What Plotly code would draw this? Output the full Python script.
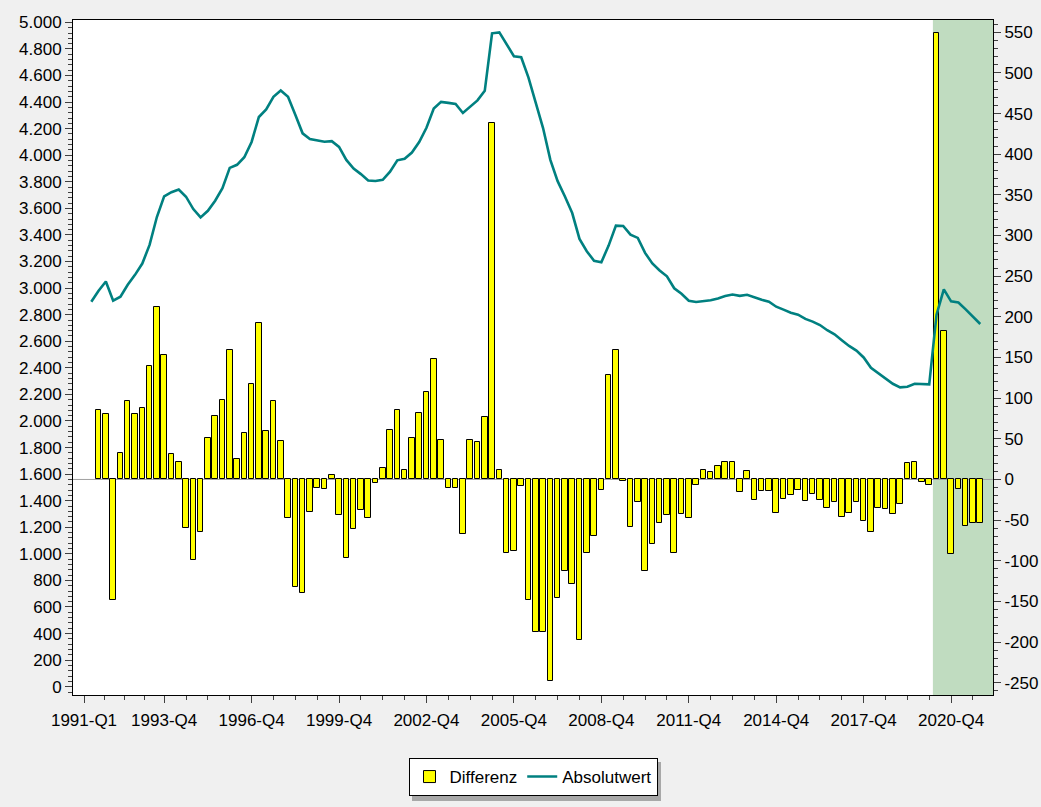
import plotly.graph_objects as go

# ---------------- data ----------------
quarters = [f"{y}-Q{q}" for y in range(1991, 2022) for q in range(1, 5)]

absolutwert = [
    2897, 2980, 3050, 2905, 2935, 3025, 3100, 3185, 3325, 3535,
    3690, 3722, 3742, 3688, 3595, 3532, 3582, 3658, 3752, 3905,
    3928, 3985, 4100, 4288, 4345, 4440, 4487, 4440, 4305, 4165,
    4122, 4112, 4102, 4106, 4063, 3965, 3900, 3858, 3810, 3806,
    3815, 3876, 3962, 3974, 4020, 4100, 4207, 4352, 4402, 4394,
    4386, 4318, 4366, 4413, 4485, 4918, 4925, 4832, 4745, 4738,
    4585, 4395, 4205, 3965, 3805, 3690, 3565, 3370, 3278, 3205,
    3195, 3320, 3470, 3468, 3402, 3378, 3265, 3186, 3133, 3089,
    2999, 2957, 2905, 2895, 2900, 2908, 2922, 2940, 2952, 2942,
    2950, 2928, 2912, 2898, 2860, 2838, 2815, 2800, 2768, 2748,
    2722, 2683, 2652, 2608, 2565, 2530, 2478, 2400, 2362, 2322,
    2280, 2253, 2258, 2280, 2280, 2276, 2800, 2990, 2900, 2892,
    2840, 2785, 2730,
]

differenz = [
    85, 80, -148, 33, 96, 80, 88, 140, 212, 153,
    31, 21, -60, -99, -65, 51, 78, 98, 159, 25,
    57, 118, 193, 59, 96, 47, -48, -132, -140, -40,
    -10, -12, 6, -44, -96, -61, -38, -47, -4, 14,
    61, 86, 12, 51, 82, 107, 148, 49, -10, -10,
    -67, 49, 46, 77, 438, 12, -90, -88, -8, -148,
    -187, -187, -248, -146, -112, -128, -197, -91, -69, -13,
    128, 159, -2, -59, -28, -113, -79, -53, -44, -90,
    -42, -48, -7, 12, 9, 16, 22, 22, -16, 10,
    -25, -14, -14, -41, -24, -19, -13, -26, -18, -25,
    -35, -28, -46, -41, -28, -51, -65, -35, -36, -43,
    -30, 20, 21, -3, -7, 549, 183, -92, -12, -57,
    -54, -54,
]

line_quarters = quarters[1:1 + len(absolutwert)]
bar_quarters = quarters[2:2 + len(differenz)]

x_tick_labels = ["1991-Q1", "1993-Q4", "1996-Q4", "1999-Q4", "2002-Q4", "2005-Q4",
                 "2008-Q4", "2011-Q4", "2014-Q4", "2017-Q4", "2020-Q4"]
x_minor_ticks = [2.75, 5.5, 8.25, 14, 17, 20, 26, 29, 32, 38, 41, 44, 50, 53, 56,
                 62, 65, 68, 74, 77, 80, 86, 89, 92, 98, 101, 104, 110, 113, 116, 122]

left_tick_values = list(range(0, 5001, 200))
left_tick_labels = ["0", "200", "400", "600", "800", "1.000", "1.200", "1.400", "1.600",
                    "1.800", "2.000", "2.200", "2.400", "2.600", "2.800", "3.000", "3.200",
                    "3.400", "3.600", "3.800", "4.000", "4.200", "4.400", "4.600", "4.800",
                    "5.000"]
right_tick_values = list(range(-250, 551, 50))
right_tick_labels = ["-250", "-200", "-150", "-100", "-50", "0", "50", "100", "150", "200",
                     "250", "300", "350", "400", "450", "500", "550"]

shade_start = "2020-Q1"  # shading begins between 2020-Q1 and 2020-Q2

# ---------------- figure ----------------
qpos = {q: i for i, q in enumerate(quarters)}
x_line = [qpos[q] for q in line_quarters]
x_bar = [qpos[q] for q in bar_quarters]

FONT = "Liberation Sans, Arial, sans-serif"
TEAL = "#008080"
W, H = 1041, 807
ML, MR, MT, MB = 73, 48, 20, 112
PW, PH = W - ML - MR, H - MT - MB


def px_to_paper_x(px):
    return (px - ML) / PW


def px_to_paper_y(py):
    return (H - MB - py) / PH


fig = go.Figure()
fig.add_trace(go.Bar(
    x=x_bar, y=differenz, name="Differenz", yaxis="y",
    width=0.76, marker=dict(color="#ffff00", line=dict(color="#000000", width=1)),
    hovertext=bar_quarters,
))
fig.add_trace(go.Scatter(
    x=x_line, y=absolutwert, name="Absolutwert", yaxis="y2", mode="lines",
    line=dict(color=TEAL, width=2.6), hovertext=line_quarters,
))

x_lo, x_hi = -1.51, 124.75

fig.update_layout(
    width=W, height=H,
    margin=dict(l=ML, r=MR, t=MT, b=MB, pad=0, autoexpand=False),
    paper_bgcolor="#f0f0f0", plot_bgcolor="#ffffff",
    font=dict(family=FONT, size=17, color="#000000"),
    bargap=0,
    showlegend=True,
    legend=dict(
        orientation="h", x=0.5, xanchor="center", y=px_to_paper_y(758), yanchor="top",
        bgcolor="#ffffff", bordercolor="#000000", borderwidth=1,
        font=dict(family=FONT, size=17, color="#000000"),
        itemwidth=30, traceorder="normal",
    ),
    xaxis=dict(
        range=[x_lo, x_hi], showgrid=False, zeroline=False, automargin=False,
        showline=True, linecolor="#000000", linewidth=1, mirror=True,
        tickmode="array", tickvals=[qpos[t] for t in x_tick_labels], ticktext=x_tick_labels,
        ticks="outside", ticklen=7, tickcolor="#404040", tickwidth=1,
        ticklabelstandoff=3,
        minor=dict(tickmode="array", tickvals=x_minor_ticks, ticks="outside",
                   ticklen=4, tickcolor="#404040", tickwidth=1, showgrid=False),
    ),
    yaxis=dict(
        side="right", range=[-265.1, 565.1], showgrid=False, zeroline=False, automargin=False,
        showline=True, linecolor="#000000", linewidth=1,
        tickmode="array", tickvals=right_tick_values, ticktext=right_tick_labels,
        ticks="outside", ticklen=7, tickcolor="#404040", tickwidth=1,
        minor=dict(dtick=10, tick0=0, ticks="outside", ticklen=4,
                   tickcolor="#404040", tickwidth=1, showgrid=False),
    ),
    yaxis2=dict(
        side="left", overlaying="y", range=[-62.5, 5018], showgrid=False, zeroline=False,
        automargin=False,
        showline=True, linecolor="#000000", linewidth=1,
        tickmode="array", tickvals=left_tick_values, ticktext=left_tick_labels,
        ticks="outside", ticklen=7, tickcolor="#404040", tickwidth=1,
        minor=dict(dtick=40, tick0=0, ticks="outside", ticklen=4,
                   tickcolor="#404040", tickwidth=1, showgrid=False),
    ),
    shapes=[
        dict(type="rect", xref="x", yref="paper", x0=qpos[shade_start] + 0.5, x1=x_hi,
             y0=0, y1=1, fillcolor="#c0dcc0", line=dict(width=0), layer="below"),
        dict(type="line", xref="paper", yref="y", x0=0, x1=1, y0=0, y1=0,
             line=dict(color="#a0a0a0", width=1), layer="below"),
        # legend drop shadow
        dict(type="rect", xref="paper", yref="paper",
             x0=px_to_paper_x(412), x1=px_to_paper_x(661),
             y0=px_to_paper_y(801), y1=px_to_paper_y(762),
             fillcolor="#a8a8a8", line=dict(width=0), layer="above"),
    ],
)

fig.write_html(
    "out.html",
    config={"displayModeBar": False},
    post_script="document.body.style.margin='0';document.body.style.overflow='hidden';",
)
